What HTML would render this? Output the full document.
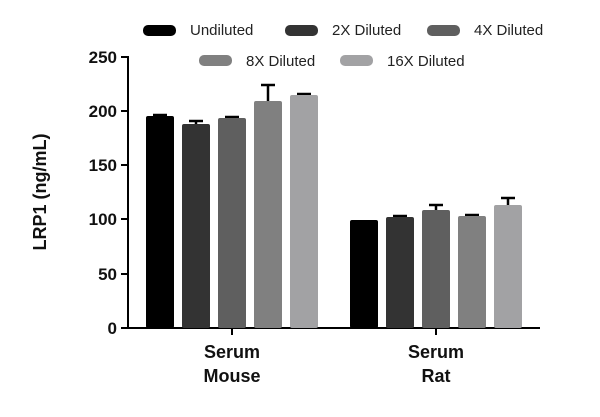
<!DOCTYPE html>
<html><head><style>body{margin:0;background:#fff}svg{display:block}</style></head><body>
<svg width="600" height="417" xmlns="http://www.w3.org/2000/svg" font-family="Liberation Sans, sans-serif">
<g font-size="15" fill="#222">
<rect x="143" y="25" width="33" height="11" rx="5" fill="#000"/><text x="190" y="35">Undiluted</text>
<rect x="285" y="25" width="33" height="11" rx="5" fill="#333"/><text x="332" y="35">2X Diluted</text>
<rect x="427" y="25" width="33" height="11" rx="5" fill="#5f5f5f"/><text x="474" y="35">4X Diluted</text>
<rect x="199" y="55" width="33" height="11" rx="5" fill="#808080"/><text x="246" y="66">8X Diluted</text>
<rect x="340" y="55" width="33" height="11" rx="5" fill="#a2a2a4"/><text x="387" y="66">16X Diluted</text>
</g>
<g stroke="#000" stroke-width="2">
<line x1="128" y1="56" x2="128" y2="329"/>
<line x1="127" y1="328" x2="540" y2="328"/>
<line x1="121" y1="57" x2="128" y2="57"/><line x1="121" y1="111" x2="128" y2="111"/><line x1="121" y1="165" x2="128" y2="165"/><line x1="121" y1="219" x2="128" y2="219"/><line x1="121" y1="274" x2="128" y2="274"/><line x1="121" y1="328" x2="128" y2="328"/>
<line x1="232" y1="328" x2="232" y2="335"/><line x1="436" y1="328" x2="436" y2="335"/>
</g>
<g font-size="17" font-weight="bold" text-anchor="end" fill="#111">
<text x="117" y="63">250</text><text x="117" y="117">200</text><text x="117" y="171">150</text><text x="117" y="225">100</text><text x="117" y="280">50</text><text x="117" y="334">0</text>
</g>
<text transform="translate(46,192) rotate(-90)" font-size="18" font-weight="bold" text-anchor="middle" fill="#111">LRP1 (ng/mL)</text>
<g font-size="18" font-weight="bold" text-anchor="middle" fill="#111">
<text x="232" y="358">Serum</text><text x="232" y="382">Mouse</text>
<text x="436" y="358">Serum</text><text x="436" y="382">Rat</text>
</g>
<g stroke="#000" stroke-width="2.5">
<line x1="160" y1="115" x2="160" y2="117"/><line x1="153" y1="115" x2="167" y2="115"/>
<line x1="196" y1="121" x2="196" y2="125"/><line x1="189" y1="121" x2="203" y2="121"/>
<line x1="232" y1="117" x2="232" y2="119"/><line x1="225" y1="117" x2="239" y2="117"/>
<line x1="268" y1="85" x2="268" y2="102"/><line x1="261" y1="85" x2="275" y2="85"/>
<line x1="304" y1="94" x2="304" y2="96"/><line x1="297" y1="94" x2="311" y2="94"/>
<line x1="400" y1="216" x2="400" y2="218"/><line x1="393" y1="216" x2="407" y2="216"/>
<line x1="436" y1="205" x2="436" y2="211"/><line x1="429" y1="205" x2="443" y2="205"/>
<line x1="472" y1="215" x2="472" y2="217"/><line x1="465" y1="215" x2="479" y2="215"/>
<line x1="508" y1="198" x2="508" y2="206"/><line x1="501" y1="198" x2="515" y2="198"/>
</g>
<g>
<rect x="146" y="116" width="28" height="212" rx="2" fill="#000"/>
<rect x="182" y="124" width="28" height="204" rx="2" fill="#333"/>
<rect x="218" y="118" width="28" height="210" rx="2" fill="#5f5f5f"/>
<rect x="254" y="101" width="28" height="227" rx="2" fill="#808080"/>
<rect x="290" y="95" width="28" height="233" rx="2" fill="#a2a2a4"/>
<rect x="350" y="220" width="28" height="108" rx="2" fill="#000"/>
<rect x="386" y="217" width="28" height="111" rx="2" fill="#333"/>
<rect x="422" y="210" width="28" height="118" rx="2" fill="#5f5f5f"/>
<rect x="458" y="216" width="28" height="112" rx="2" fill="#808080"/>
<rect x="494" y="205" width="28" height="123" rx="2" fill="#a2a2a4"/>
</g>
</svg>
</body></html>
